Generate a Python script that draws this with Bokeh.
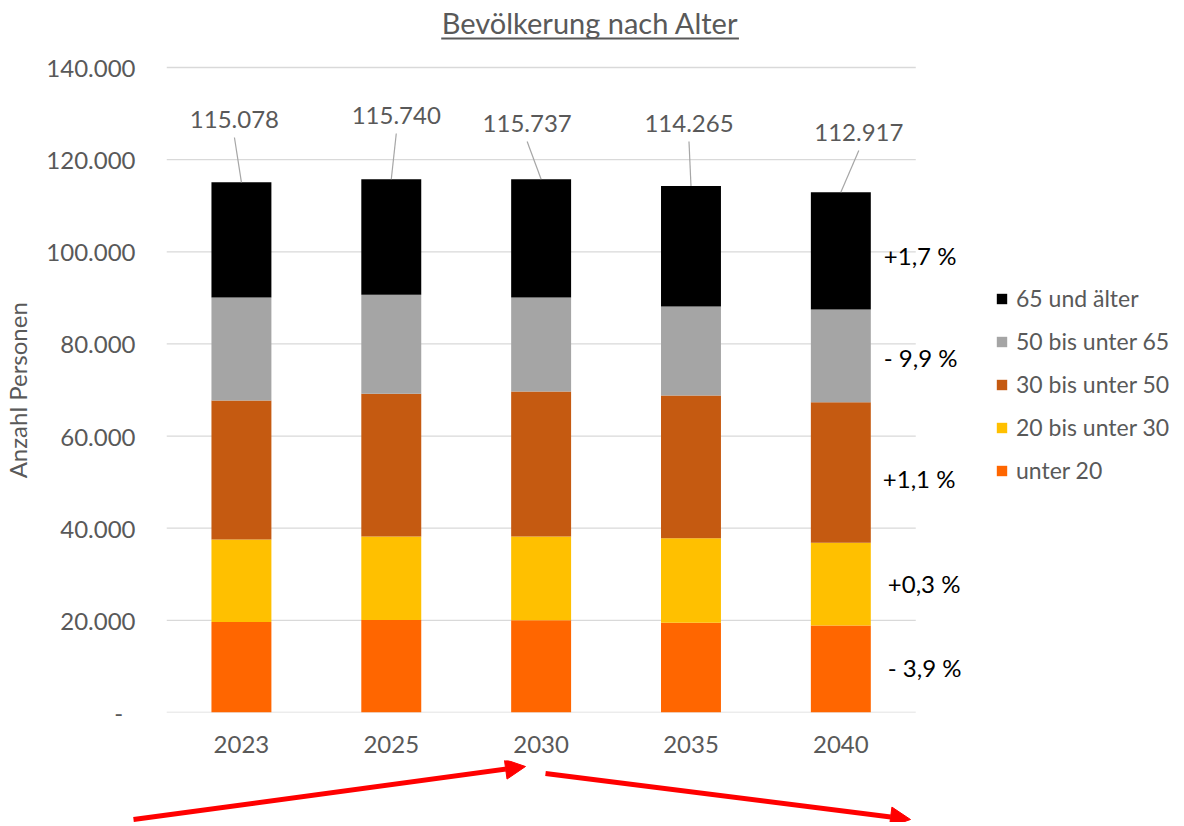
from bokeh.plotting import figure
from bokeh.models import (ColumnDataSource, Range1d, FixedTicker, Legend, LegendItem,
                          Arrow, NormalHead)
from bokeh.embed import file_html
from bokeh.resources import INLINE
from bokeh.core.properties import value

# ---------------- data ----------------
years = ["2023", "2025", "2030", "2035", "2040"]
groups = ["unter 20", "20 bis unter 30", "30 bis unter 50", "50 bis unter 65", "65 und älter"]
unter_20 = [19630, 20100, 20000, 19500, 18870]
bis_30 = [17920, 18100, 18200, 18300, 17970]
bis_50 = [30150, 31000, 31500, 31000, 30480]
bis_65 = [22400, 21500, 20400, 19300, 20180]
ab_65 = [24978, 25040, 25637, 26165, 25417]
totals = [115078, 115740, 115737, 114265, 112917]
total_labels = ["115.078", "115.740", "115.737", "114.265", "112.917"]
change_labels = ["+1,7 %", "- 9,9 %", "+1,1 %", "+0,3 %", "- 3,9 %"]
change_y = [99200, 77100, 50800, 28000, 9800]
y_ticks = [0, 20000, 40000, 60000, 80000, 100000, 120000, 140000]
y_tick_labels = ["-\u00a0\u00a0", "20.000", "40.000", "60.000", "80.000", "100.000", "120.000", "140.000"]
colors = ["#FF6600", "#FFC000", "#C55A11", "#A5A5A5", "#000000"]

# ---------------- layout constants ----------------
FONT = value("Lato")
GRAY = "#595959"
PX_X = 150.0                 # px per category
PX_Y = 645.0 / 140000.0      # px per person
W = 1180
LEFT = 165                   # frame left edge (px)
FRAME_W = W - LEFT
FRAME_H = 712                # frame bottom (value 0) at y = 712 px

xs = [i + 0.5 for i in range(len(years))]

p = figure(width=W, height=760,
           x_range=Range1d(0, FRAME_W / PX_X), y_range=Range1d(0, FRAME_H / PX_Y),
           min_border_left=LEFT, min_border_right=0, min_border_top=0, min_border_bottom=48,
           output_backend="svg", toolbar_location=None)
p.outline_line_color = None
p.grid.visible = False

# grid lines (only across the bar area)
p.segment(x0=[0] * len(y_ticks), x1=[len(years)] * len(y_ticks), y0=y_ticks, y1=y_ticks,
          line_color="#D9D9D9", line_width=1.3)

src = ColumnDataSource(dict(x=xs, u20=unter_20, b30=bis_30, b50=bis_50, b65=bis_65, a65=ab_65))
renderers = p.vbar_stack(["u20", "b30", "b50", "b65", "a65"], x="x", width=0.4, color=colors,
                         line_color=None, source=src)

# total labels with leader lines
lab_dx = [-7, 5, -14, -2, 18]
lab_dy = [62.8, 63.8, 55.8, 62.6, 59.8]
lx = [x + d / PX_X for x, d in zip(xs, lab_dx)]
ly = [t + d / PX_Y for t, d in zip(totals, lab_dy)]
lead_top = [t + (d - 18) / PX_Y for t, d in zip(totals, lab_dy)]
p.segment(x0=lx, y0=lead_top, x1=xs, y1=totals, line_color="#A6A6A6", line_width=1.2)
p.text(x=lx, y=ly, text=total_labels, text_font=FONT, text_font_size="24px",
       text_color=GRAY, text_align="center", text_baseline="middle")

# change labels
cx_px = [883, 883, 882, 887, 887]
cx = [(c - LEFT) / PX_X for c in cx_px]
p.text(x=cx, y=change_y, text=change_labels, text_font=FONT, text_font_size="24px",
       text_color="#000000", text_align="left", text_baseline="middle")

# title with underline
tx = (589 - LEFT) / PX_X
ty = (712 - 22) / PX_Y
p.text(x=[tx], y=[ty], text=["Bevölkerung nach Alter"], text_font=FONT, text_font_size="29px",
       text_color=GRAY, text_align="center", text_baseline="middle")
p.segment(x0=[(440 - LEFT) / PX_X], x1=[(738 - LEFT) / PX_X],
          y0=[(712 - 38) / PX_Y], y1=[(712 - 38) / PX_Y], line_color=GRAY, line_width=2)

# axes
p.yaxis.ticker = FixedTicker(ticks=y_ticks)
p.yaxis.major_label_overrides = {t: l for t, l in zip(y_ticks, y_tick_labels)}
p.yaxis.axis_line_color = None
p.yaxis.major_tick_line_color = None
p.yaxis.minor_tick_line_color = None
p.yaxis.major_label_text_font = "Lato"
p.yaxis.major_label_text_font_size = "24px"
p.yaxis.major_label_text_color = GRAY
p.yaxis.major_label_standoff = 25
# trailing no-break spaces shift the visible title down to the centre of 0..140.000
p.yaxis.axis_label = "Anzahl Personen" + "\u00a0" * 11
p.yaxis.axis_label_text_font = "Lato"
p.yaxis.axis_label_text_font_size = "24px"
p.yaxis.axis_label_text_font_style = "normal"
p.yaxis.axis_label_text_color = GRAY
p.yaxis.axis_label_standoff = 11

p.xaxis.ticker = FixedTicker(ticks=xs)
p.xaxis.major_label_overrides = {x: y for x, y in zip(xs, years)}
p.xaxis.axis_line_color = None
p.xaxis.major_tick_line_color = None
p.xaxis.minor_tick_line_color = None
p.xaxis.major_label_text_font = "Lato"
p.xaxis.major_label_text_font_size = "24px"
p.xaxis.major_label_text_color = GRAY
p.xaxis.major_label_standoff = 17

# legend
items = [LegendItem(label=g, renderers=[r]) for g, r in zip(groups[::-1], renderers[::-1])]
legend = Legend(items=items, location=(829, 228), glyph_width=13, glyph_height=13,
                label_standoff=8, spacing=15, padding=0, margin=0, label_height=20,
                border_line_color=None, background_fill_alpha=0,
                label_text_font="Lato", label_text_font_size="23px", label_text_color=GRAY)
p.add_layout(legend)

# arrows below the chart (separate strip)
H2 = 62
p2 = figure(width=W, height=H2, x_range=Range1d(-LEFT / PX_X, FRAME_W / PX_X),
            y_range=Range1d(0, H2), min_border=0, x_axis_type=None, y_axis_type=None,
            output_backend="svg", toolbar_location=None)
p2.outline_line_color = None
p2.grid.visible = False
arrow_starts = [((133 - LEFT) / PX_X, 3), ((545 - LEFT) / PX_X, 49)]
arrow_ends = [((525 - LEFT) / PX_X, 56), ((910 - LEFT) / PX_X, 3)]
for (x0, y0), (x1, y1) in zip(arrow_starts, arrow_ends):
    p2.add_layout(Arrow(end=NormalHead(size=20, fill_color="#FF0000", line_color="#FF0000"),
                        x_start=x0, y_start=y0, x_end=x1, y_end=y1,
                        line_color="#FF0000", line_width=5))

open("out.html", "w").write(file_html([p, p2], INLINE))
